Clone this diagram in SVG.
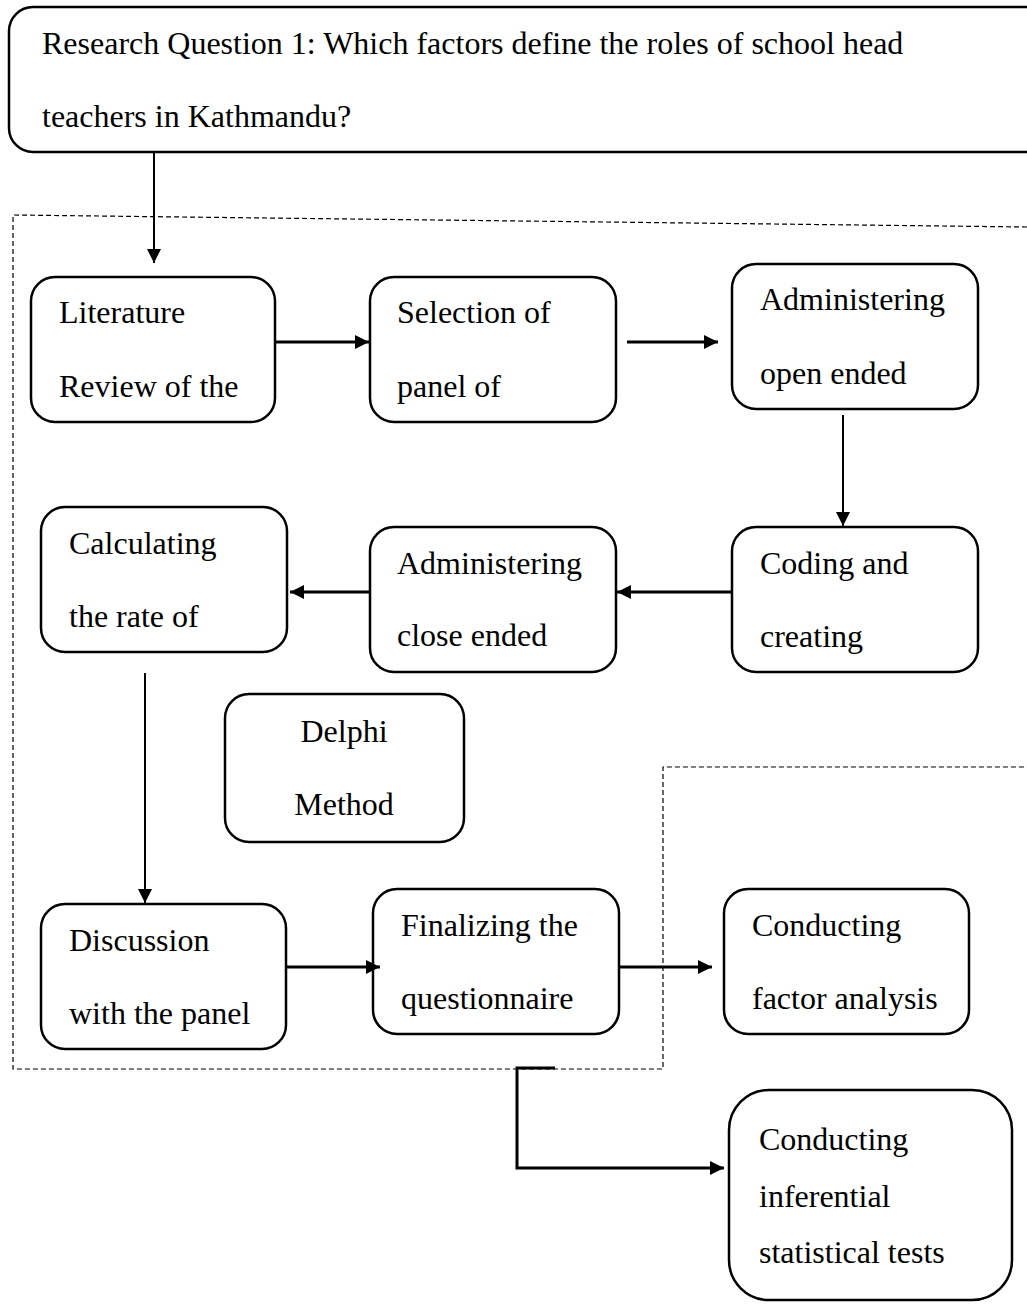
<svg xmlns="http://www.w3.org/2000/svg" width="1027" height="1308" viewBox="0 0 1027 1308">
<style>
.box{fill:#fff;stroke:#000;stroke-width:2.5}
.t{font-family:"Liberation Serif","Times New Roman",serif;font-size:32px;fill:#000}
.c{stroke:#000;fill:none}
.thin{stroke-width:2}
.thick{stroke-width:3}
.dash{stroke:#000;stroke-width:1.2;fill:none;stroke-dasharray:5 3}
</style>
<defs>
<marker id="ah" viewBox="0 0 10 10" refX="10" refY="5" markerWidth="15" markerHeight="14" markerUnits="userSpaceOnUse" orient="auto">
<path d="M0,0 L10,5 L0,10 z" fill="#000"/>
</marker>
</defs>
<rect width="1027" height="1308" fill="#fff"/>
<g id="frame">
<polyline class="dash" points="1027,227 13,215 13,1069 663,1069 663,767 1027,767"/>
</g>
<g id="n-rq">
<rect class="box" x="9" y="7" width="1040" height="145" rx="24"/>
<text class="t" x="42" y="54">Research Question 1: Which factors define the roles of school head</text>
<text class="t" x="42" y="127">teachers in Kathmandu?</text>
</g>
<g id="n-lit">
<rect class="box" x="31" y="277" width="244" height="145" rx="24"/>
<text class="t" x="59" y="323">Literature</text>
<text class="t" x="59" y="397">Review of the</text>
</g>
<g id="n-sel">
<rect class="box" x="370" y="277" width="246" height="145" rx="24"/>
<text class="t" x="397" y="323">Selection of</text>
<text class="t" x="397" y="397">panel of</text>
</g>
<g id="n-adm-open">
<rect class="box" x="732" y="264" width="246" height="145" rx="24"/>
<text class="t" x="760" y="310">Administering</text>
<text class="t" x="760" y="384">open ended</text>
</g>
<g id="n-coding">
<rect class="box" x="732" y="527" width="246" height="145" rx="24"/>
<text class="t" x="760" y="574">Coding and</text>
<text class="t" x="760" y="647">creating</text>
</g>
<g id="n-adm-close">
<rect class="box" x="370" y="527" width="246" height="145" rx="24"/>
<text class="t" x="397" y="574">Administering</text>
<text class="t" x="397" y="646">close ended</text>
</g>
<g id="n-calc">
<rect class="box" x="41" y="507" width="246" height="145" rx="24"/>
<text class="t" x="69" y="554">Calculating</text>
<text class="t" x="69" y="627">the rate of</text>
</g>
<g id="n-delphi">
<rect class="box" x="225" y="694" width="239" height="148" rx="24"/>
<text class="t" x="344" y="742" text-anchor="middle">Delphi</text>
<text class="t" x="344" y="815" text-anchor="middle">Method</text>
</g>
<g id="n-disc">
<rect class="box" x="41" y="904" width="245" height="145" rx="24"/>
<text class="t" x="69" y="951">Discussion</text>
<text class="t" x="69" y="1024">with the panel</text>
</g>
<g id="n-final">
<rect class="box" x="373" y="889" width="246" height="145" rx="24"/>
<text class="t" x="401" y="936">Finalizing the</text>
<text class="t" x="401" y="1009">questionnaire</text>
</g>
<g id="n-factor">
<rect class="box" x="724" y="889" width="245" height="145" rx="24"/>
<text class="t" x="752" y="936">Conducting</text>
<text class="t" x="752" y="1009">factor analysis</text>
</g>
<g id="n-infer">
<rect class="box" x="729" y="1090" width="283" height="210" rx="40"/>
<text class="t" x="759" y="1150">Conducting</text>
<text class="t" x="759" y="1207">inferential</text>
<text class="t" x="759" y="1263">statistical tests</text>
</g>
<g id="connectors">
<line class="c thin" x1="154" y1="152" x2="154" y2="263" marker-end="url(#ah)"/>
<line class="c thick" x1="275" y1="342" x2="369" y2="342" marker-end="url(#ah)"/>
<line class="c thick" x1="627" y1="342" x2="718" y2="342" marker-end="url(#ah)"/>
<line class="c thin" x1="843" y1="415" x2="843" y2="526" marker-end="url(#ah)"/>
<line class="c thick" x1="732" y1="592" x2="617" y2="592" marker-end="url(#ah)"/>
<line class="c thick" x1="370" y1="592" x2="290" y2="592" marker-end="url(#ah)"/>
<line class="c thin" x1="145" y1="673" x2="145" y2="903" marker-end="url(#ah)"/>
<line class="c thick" x1="286" y1="967" x2="380" y2="967" marker-end="url(#ah)"/>
<line class="c thick" x1="619" y1="967" x2="712" y2="967" marker-end="url(#ah)"/>
<polyline class="c thick" points="555,1068 517,1068 517,1168 724,1168" marker-end="url(#ah)"/>
</g>
</svg>
